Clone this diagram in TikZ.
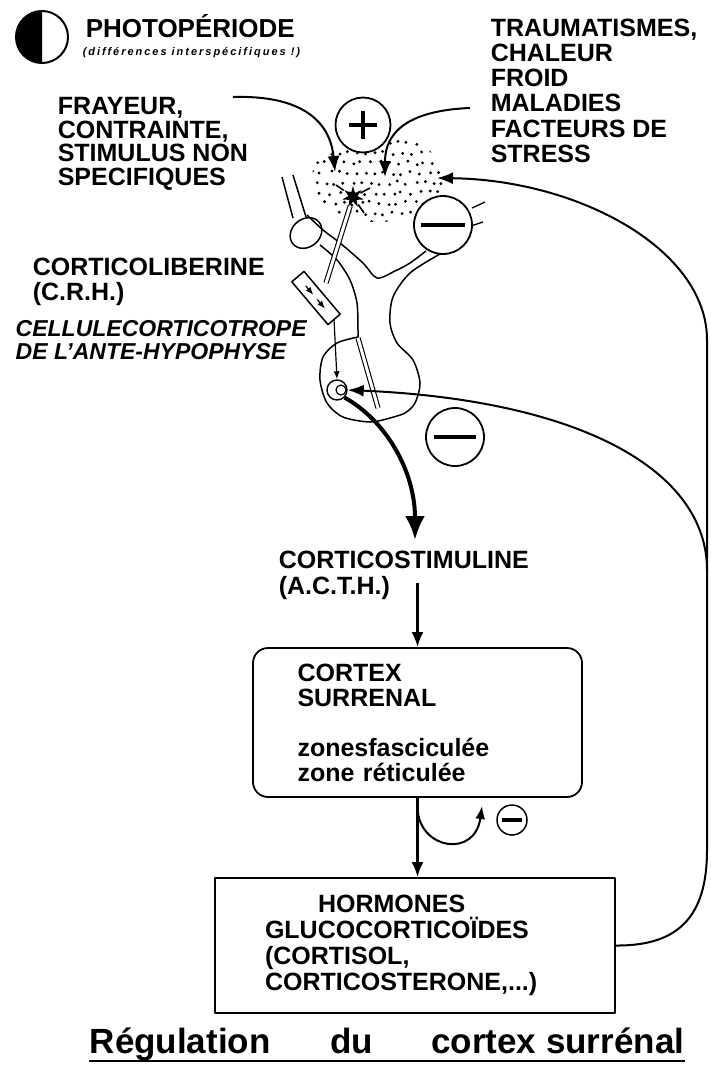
\documentclass[tikz,border=0pt]{standalone}
\usepackage{fontspec}
\setmainfont{Liberation Sans}
\usetikzlibrary{arrows.meta,shapes.geometric}

\begin{document}
\begin{tikzpicture}[x=1pt, y=-1pt, line width=1.5pt, line join=round,
    lbl/.style={font=\fontsize{25}{#1}\selectfont\bfseries, align=left, inner sep=0pt, anchor=north west},
    lbl/.default=25,
    note/.style={font=\fontsize{23}{23}\selectfont\bfseries\itshape, align=left, inner sep=0pt, anchor=north west},
    sign/.style={circle, draw, fill=white, inner sep=0pt, line width=1.8pt, minimum size=#1},
    bar/.style={line width=4.5pt},
    feed/.style={line width=2pt, -{Latex[length=16pt,width=12pt]}},
    flow/.style={line width=2.6pt, -{Latex[length=15pt,width=12pt]}},
    thin/.style={line width=1.2pt, -{Latex[length=8pt,width=6pt]}},
    vessel/.style={double, double distance=3pt, line width=1.1pt}]
  \useasboundingbox (0,0) rectangle (711,1068);

  % photoperiode
  \node[circle, draw, line width=2pt, minimum size=52pt, inner sep=0pt] (photo) at (42,37) {};
  \begin{scope}
    \clip (10,0) rectangle (42,70);
    \fill (photo.center) circle[radius=26pt];
  \end{scope}
  \node[font=\fontsize{26}{26}\selectfont\bfseries, anchor=base west, inner sep=0pt] (photolbl) at (85,37) {PHOTOPÉRIODE};
  \node[font=\fontsize{11}{11}\selectfont\bfseries\itshape\addfontfeatures{LetterSpace=18}, anchor=base west, inner sep=0pt] (photonote) at (82,55) {(différences interspécifiques !)};

  % labels
  \node[lbl=23.5] (frayeur) at (57,97) {FRAYEUR,\\CONTRAINTE,\\STIMULUS NON\\SPECIFIQUES};
  \node[lbl=25.2] (trauma) at (490,18) {TRAUMATISMES,\\CHALEUR\\FROID\\MALADIES\\FACTEURS DE\\STRESS};
  \node[lbl] (crh) at (32,257) {CORTICOLIBERINE\\(C.R.H.)};
  \node[note] (cellule) at (15,320) {CELLULECORTICOTROPE\\DE L'ANTE-HYPOPHYSE};
  \node[lbl=26] (acth) at (278,550) {CORTICOSTIMULINE\\(A.C.T.H.)};

  % hypothalamus (stipple)
  \pgfmathsetseed{11}
  \begin{scope}
    \clip (378,178) ellipse[x radius=66pt, y radius=44pt];
    \foreach \r in {0,...,9}{
      \foreach \c in {0,...,15}{
        \pgfmathsetmacro\px{312+9*\c+4.5*mod(\r,2)+2*rand}
        \pgfmathsetmacro\py{133+10*\r+2*rand}
        \fill (\px,\py) circle[radius=1.6pt];
      }
    }
  \end{scope}

  % stalk and hypophysis
  \draw (282,177) -- (293,218);
  \draw (293,175) -- (306,217);
  \draw[rotate around={40:(306,233)}] (306,233) ellipse[x radius=17pt, y radius=14pt];
  \draw plot[smooth] coordinates {(307,215) (323,230) (340,243) (363,263) (377,278) (395,271) (410,263) (426,251)};
  \draw plot[smooth] coordinates {(440,254) (410,273) (393,297) (390,323) (397,343) (413,360) (420,383) (415,403) (405,413) (390,418)};
  \draw plot[smooth] coordinates {(320,245) (337,260) (350,280) (357,303) (358,330) (358,337)};
  \draw plot[smooth] coordinates {(358,337) (337,343) (323,357) (320,380) (327,403) (343,417) (370,422) (390,418)};
  \draw[vessel] (358,338) -- (378,408);

  % neurone a CRH
  \node[star, star points=7, star point ratio=2.4, fill, inner sep=0pt, minimum size=22pt] (neuron) at (353,197) {};
  \draw[line width=1.6pt] (neuron) -- (336,185);
  \draw[line width=1.6pt] (neuron) -- (370,188);
  \draw[line width=1.6pt] (neuron) -- (364,213);
  \coordinate (axonend) at (326,283);
  \draw[vessel] (neuron) -- (axonend);

  % capsule (C.R.H.)
  \draw[line width=1.5pt] (304,271.4) -- (291.8,281.8) -- (328,324.6) -- (340.2,314.2) -- cycle;
  \draw[thin] (305.7,285.8) -- (313.4,294.9);
  \draw[thin] (317.3,299.5) -- (325,308.7);
  \coordinate (capsout) at (334,319);

  % cellule corticotrope
  \node[circle, draw, fill=white, minimum size=20pt, inner sep=0pt, line width=1.4pt] (cell) at (337,390) {};
  \draw[line width=1.2pt] (341,390) circle[radius=5pt];
  \draw[thin] (capsout) -- (cell.north);

  % signes
  \node[sign=55pt] (plus) at (363,125) {};
  \draw[bar] ([xshift=-14pt]plus.center) -- ([xshift=14pt]plus.center);
  \draw[bar] ([yshift=-14pt]plus.center) -- ([yshift=14pt]plus.center);
  \node[sign=58pt] (minustop) at (443,225) {};
  \draw[bar] ([xshift=-22pt]minustop.center) -- ([xshift=22pt]minustop.center);
  \draw[line width=1.3pt] (472,208) -- (485,202);
  \draw[line width=1.3pt] (471,226) -- (483,222);
  \node[sign=58pt] (minusmid) at (455,437) {};
  \draw[bar] ([xshift=-21pt]minusmid.center) -- ([xshift=21pt]minusmid.center);

  % stimuli
  \coordinate (frayeurout) at (233,97);
  \coordinate (traumaout) at (470,108);
  \draw[feed] (frayeurout) .. controls (300,95) and (330,120) .. (335,172);
  \draw[feed] (traumaout) .. controls (420,110) and (385,125) .. (385,177);

  % boxes
  \node[draw, rounded corners=15pt, line width=1.8pt, minimum width=329pt, minimum height=149pt,
        text width=240pt, align=left, inner sep=0pt, font=\fontsize{25}{25}\selectfont\bfseries]
        (cortex) at (417.5,722.5) {CORTEX\\SURRENAL\\[25pt]zonesfasciculée\\zone réticulée};
  \node[draw, line width=1.8pt, minimum width=400pt, minimum height=135pt,
        text width=300pt, align=left, inner sep=0pt, font=\fontsize{25}{26}\selectfont\bfseries]
        (hormones) at (415,945.5) {\hspace*{53pt}HORMONES\\GLUCOCORTICOÏDES\\(CORTISOL,\\CORTICOSTERONE,...)};

  % voie principale
  \coordinate (acthin) at (415,540);
  \coordinate (acthout) at (417.5,583);
  \draw[line width=4pt, -{Latex[length=24pt,width=20pt]}] (cell.south east) .. controls (385,420) and (415,470) .. (acthin);
  \draw[flow] (acthout) -- (cortex.north);
  \draw[flow] (cortex.south) -- (cortex.south |- hormones.north);
  \node[sign=30pt, line width=1.5pt] (minuslow) at (512,820) {};
  \draw[line width=4pt] ([xshift=-10pt]minuslow.center) -- ([xshift=10pt]minuslow.center);
  \coordinate (loopstart) at ([yshift=-11pt]cortex.south);
  \draw[line width=2pt, -{Latex[length=13pt,width=10pt]}] (loopstart) .. controls (420,850) and (475,858) .. (482,806);

  % retrocontroles
  \coordinate (stipin) at (437,178);
  \coordinate (join) at (707,570);
  \draw[feed] (hormones.east) .. controls (680,946) and (707,915) .. (707,850) -- (707,340) .. controls (707,250) and (580,180) .. (stipin);
  \draw[feed] (join) .. controls (707,470) and (580,400) .. (cell.east);

  % titre
  \node[font=\fontsize{35}{35}\selectfont\bfseries, anchor=base west, inner sep=0pt] (title) at (89,1053)
        {Régulation\hspace{60pt}du\hspace{58pt}cortex surrénal};
  \draw[line width=2pt] (title.south west) -- (title.south east);
\end{tikzpicture}
\end{document}
